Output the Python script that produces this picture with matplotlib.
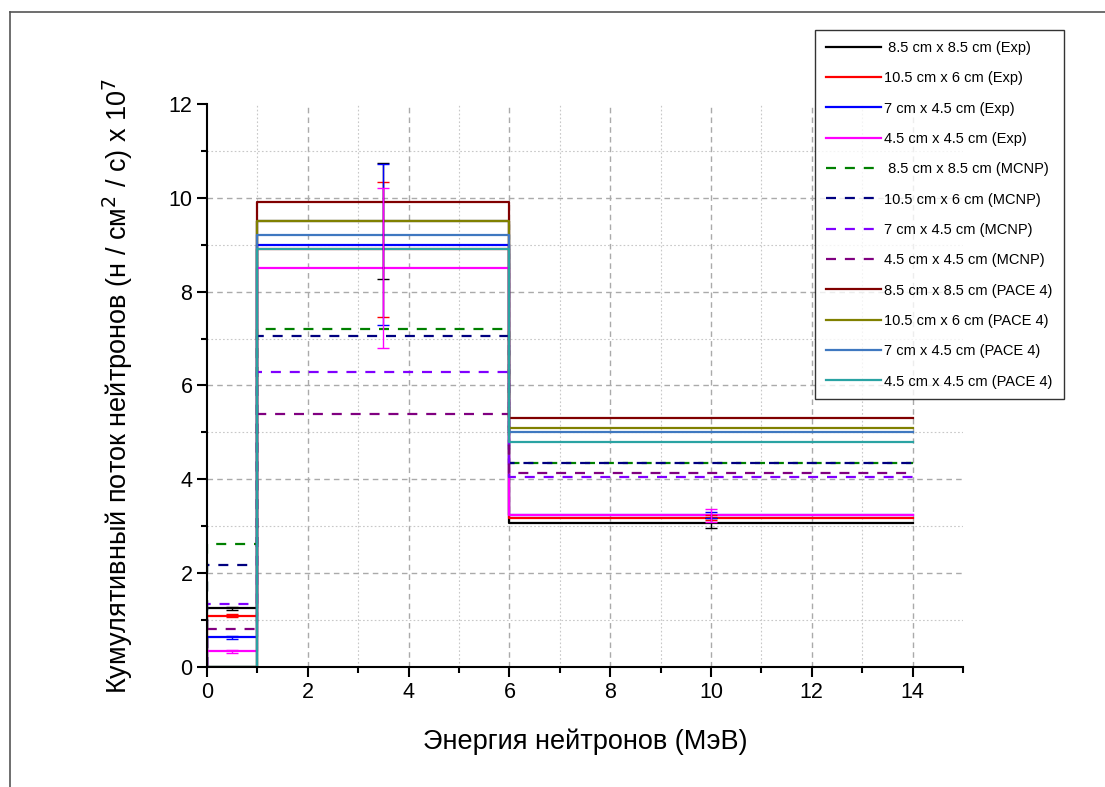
import matplotlib
matplotlib.use("Agg")
import matplotlib.pyplot as plt
from matplotlib.lines import Line2D
from matplotlib.ticker import MultipleLocator

plt.rcParams['font.family'] = ['Liberation Sans', 'DejaVu Sans']

# ---- data ----
bin_edges = [0, 1, 6, 14]

labels = [
    " 8.5 cm x 8.5 cm (Exp)", "10.5 cm x 6 cm (Exp)", "7 cm x 4.5 cm (Exp)", "4.5 cm x 4.5 cm (Exp)",
    " 8.5 cm x 8.5 cm (MCNP)", "10.5 cm x 6 cm (MCNP)", "7 cm x 4.5 cm (MCNP)", "4.5 cm x 4.5 cm (MCNP)",
    "8.5 cm x 8.5 cm (PACE 4)", "10.5 cm x 6 cm (PACE 4)", "7 cm x 4.5 cm (PACE 4)", "4.5 cm x 4.5 cm (PACE 4)",
]

exp_85x85 = [1.25, 9.50, 3.07]
exp_105x6 = [1.09, 8.90, 3.18]
exp_7x45 = [0.63, 9.00, 3.24]
exp_45x45 = [0.33, 8.50, 3.23]

mcnp_85x85 = [2.62, 7.20, 4.35]
mcnp_105x6 = [2.17, 7.05, 4.34]
mcnp_7x45 = [1.34, 6.29, 4.04]
mcnp_45x45 = [0.82, 5.40, 4.13]

pace_85x85 = [0.0, 9.90, 5.30]
pace_105x6 = [0.0, 9.50, 5.10]
pace_7x45 = [0.0, 9.20, 5.00]
pace_45x45 = [0.0, 8.90, 4.80]

# experimental uncertainties (at bin centres)
err_x = [0.5, 3.5, 10.0]
err_85x85 = [0.03, 1.24, 0.10]
err_105x6 = [0.03, 1.43, 0.05]
err_7x45 = [0.03, 1.71, 0.07]
err_45x45 = [0.03, 1.70, 0.13]

series = [exp_85x85, exp_105x6, exp_7x45, exp_45x45,
          mcnp_85x85, mcnp_105x6, mcnp_7x45, mcnp_45x45,
          pace_85x85, pace_105x6, pace_7x45, pace_45x45]
colors = ['#000000', '#FF0000', '#0000FF', '#FF00FF',
          '#008000', '#000080', '#8000FF', '#800080',
          '#800000', '#808000', '#3F78C0', '#2AA3A3']
styles = ['-'] * 4 + [(0, (4.5, 4))] * 4 + ['-'] * 4
exp_errs = [err_85x85, err_105x6, err_7x45, err_45x45]


def step_xy(vals):
    xs, ys = [bin_edges[0]], [0.0]
    for i, v in enumerate(vals):
        xs += [bin_edges[i], bin_edges[i + 1]]
        ys += [v, v]
    return xs, ys


fig = plt.figure(figsize=(11.05, 7.87), dpi=100)
ax = fig.add_axes([0.1873, 0.1525, 0.6842, 0.7154])

# grid (drawn manually)
for gx in range(1, 15):
    if gx % 2 == 0:
        ax.axvline(gx, color='#aaaaaa', lw=1.0, ls=(0, (4, 3)), zorder=0)
    else:
        ax.axvline(gx, color='#c8c8c8', lw=0.8, ls=(0, (1.5, 2)), zorder=0)
for gy in range(1, 12):
    if gy % 2 == 0:
        ax.axhline(gy, color='#aaaaaa', lw=1.0, ls=(0, (4, 3)), zorder=0)
    else:
        ax.axhline(gy, color='#c8c8c8', lw=0.8, ls=(0, (1.5, 2)), zorder=0)

handles = []
for vals, c, st, lab in zip(series, colors, styles, labels):
    xs, ys = step_xy(vals)
    h, = ax.plot(xs, ys, color=c, lw=1.6, ls=st, label=lab, zorder=2)
    handles.append(h)

for i in range(4):
    handles[i].set_zorder(1.5)

for vals, errs, c in zip(series[:4], exp_errs, colors[:4]):
    ax.errorbar(err_x, vals, yerr=errs, fmt='none', ecolor=c, elinewidth=1.0,
                capsize=4, capthick=1.0, zorder=4)

ax.set_xlim(0, 15)
ax.set_ylim(0, 12)
ax.xaxis.set_major_locator(MultipleLocator(2))
ax.xaxis.set_minor_locator(MultipleLocator(1))
ax.yaxis.set_major_locator(MultipleLocator(2))
ax.yaxis.set_minor_locator(MultipleLocator(1))
ax.set_xticks(range(0, 15, 2))
ax.spines['top'].set_visible(False)
ax.spines['right'].set_visible(False)
for s in ['left', 'bottom']:
    ax.spines[s].set_linewidth(1.5)
ax.tick_params(which='major', direction='out', length=7, width=1.5, labelsize=15.5)
ax.tick_params(which='minor', direction='out', length=4, width=1.5)

ax.set_xlabel("Энергия нейтронов (МэВ)", fontsize=19.5, labelpad=19)
ax.set_ylabel("Кумулятивный поток нейтронов (н / см$^2$ / с) x 10$^7$", fontsize=19.5, labelpad=24)

leg = fig.legend(handles=handles, loc='upper left', bbox_to_anchor=(0.7375, 0.962),
                 fontsize=10.5, handlelength=3.8, labelspacing=1.12, handletextpad=0.2,
                 borderpad=0.75, borderaxespad=0, frameon=True, fancybox=False)
leg.get_frame().set_edgecolor('black')
leg.get_frame().set_linewidth(1.0)

# figure frame (left and top edges)
fig.add_artist(Line2D([10 / 1105, 10 / 1105], [0, 1 - 12 / 787], transform=fig.transFigure,
                      color='#555555', lw=1.2))
fig.add_artist(Line2D([10 / 1105, 1], [1 - 12 / 787, 1 - 12 / 787], transform=fig.transFigure,
                      color='#555555', lw=1.2))

fig.savefig("out.png", dpi=100)
